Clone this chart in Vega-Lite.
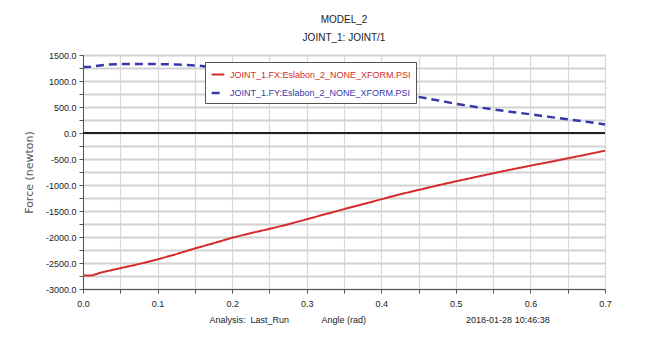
{
  "$schema": "https://vega.github.io/schema/vega-lite/v6.json",
  "width": 522,
  "height": 234,
  "autosize": {"type": "none"},
  "padding": {"left": 83, "top": 55, "right": 58, "bottom": 48},
  "background": "white",
  "title": {
    "text": "MODEL_2",
    "subtitle": "JOINT_1: JOINT/1",
    "anchor": "middle",
    "frame": "group",
    "font": "Liberation Sans, sans-serif",
    "subtitleFont": "Liberation Sans, sans-serif",
    "fontSize": 10,
    "subtitleFontSize": 10,
    "fontWeight": "normal",
    "color": "#222",
    "subtitleColor": "#222",
    "offset": 8,
    "subtitlePadding": 8
  },
  "data": {
    "values": [
      {"series": "JOINT_1.FX:Eslabon_2_NONE_XFORM.PSI", "angle": 0.0, "force": -2740},
      {"series": "JOINT_1.FX:Eslabon_2_NONE_XFORM.PSI", "angle": 0.012, "force": -2740},
      {"series": "JOINT_1.FX:Eslabon_2_NONE_XFORM.PSI", "angle": 0.025, "force": -2680},
      {"series": "JOINT_1.FX:Eslabon_2_NONE_XFORM.PSI", "angle": 0.05, "force": -2600},
      {"series": "JOINT_1.FX:Eslabon_2_NONE_XFORM.PSI", "angle": 0.075, "force": -2520},
      {"series": "JOINT_1.FX:Eslabon_2_NONE_XFORM.PSI", "angle": 0.1, "force": -2430},
      {"series": "JOINT_1.FX:Eslabon_2_NONE_XFORM.PSI", "angle": 0.125, "force": -2330},
      {"series": "JOINT_1.FX:Eslabon_2_NONE_XFORM.PSI", "angle": 0.15, "force": -2220},
      {"series": "JOINT_1.FX:Eslabon_2_NONE_XFORM.PSI", "angle": 0.175, "force": -2120},
      {"series": "JOINT_1.FX:Eslabon_2_NONE_XFORM.PSI", "angle": 0.2, "force": -2015},
      {"series": "JOINT_1.FX:Eslabon_2_NONE_XFORM.PSI", "angle": 0.225, "force": -1925},
      {"series": "JOINT_1.FX:Eslabon_2_NONE_XFORM.PSI", "angle": 0.25, "force": -1845},
      {"series": "JOINT_1.FX:Eslabon_2_NONE_XFORM.PSI", "angle": 0.275, "force": -1755},
      {"series": "JOINT_1.FX:Eslabon_2_NONE_XFORM.PSI", "angle": 0.3, "force": -1660},
      {"series": "JOINT_1.FX:Eslabon_2_NONE_XFORM.PSI", "angle": 0.325, "force": -1560},
      {"series": "JOINT_1.FX:Eslabon_2_NONE_XFORM.PSI", "angle": 0.35, "force": -1465},
      {"series": "JOINT_1.FX:Eslabon_2_NONE_XFORM.PSI", "angle": 0.375, "force": -1370},
      {"series": "JOINT_1.FX:Eslabon_2_NONE_XFORM.PSI", "angle": 0.4, "force": -1275},
      {"series": "JOINT_1.FX:Eslabon_2_NONE_XFORM.PSI", "angle": 0.425, "force": -1180},
      {"series": "JOINT_1.FX:Eslabon_2_NONE_XFORM.PSI", "angle": 0.45, "force": -1095},
      {"series": "JOINT_1.FX:Eslabon_2_NONE_XFORM.PSI", "angle": 0.475, "force": -1010},
      {"series": "JOINT_1.FX:Eslabon_2_NONE_XFORM.PSI", "angle": 0.5, "force": -930},
      {"series": "JOINT_1.FX:Eslabon_2_NONE_XFORM.PSI", "angle": 0.525, "force": -852},
      {"series": "JOINT_1.FX:Eslabon_2_NONE_XFORM.PSI", "angle": 0.55, "force": -775},
      {"series": "JOINT_1.FX:Eslabon_2_NONE_XFORM.PSI", "angle": 0.575, "force": -700},
      {"series": "JOINT_1.FX:Eslabon_2_NONE_XFORM.PSI", "angle": 0.6, "force": -628},
      {"series": "JOINT_1.FX:Eslabon_2_NONE_XFORM.PSI", "angle": 0.625, "force": -560},
      {"series": "JOINT_1.FX:Eslabon_2_NONE_XFORM.PSI", "angle": 0.65, "force": -487},
      {"series": "JOINT_1.FX:Eslabon_2_NONE_XFORM.PSI", "angle": 0.675, "force": -415},
      {"series": "JOINT_1.FX:Eslabon_2_NONE_XFORM.PSI", "angle": 0.7, "force": -340},
      {"series": "JOINT_1.FY:Eslabon_2_NONE_XFORM.PSI", "angle": 0.0, "force": 1270},
      {"series": "JOINT_1.FY:Eslabon_2_NONE_XFORM.PSI", "angle": 0.01, "force": 1275},
      {"series": "JOINT_1.FY:Eslabon_2_NONE_XFORM.PSI", "angle": 0.03, "force": 1312},
      {"series": "JOINT_1.FY:Eslabon_2_NONE_XFORM.PSI", "angle": 0.05, "force": 1325},
      {"series": "JOINT_1.FY:Eslabon_2_NONE_XFORM.PSI", "angle": 0.075, "force": 1328},
      {"series": "JOINT_1.FY:Eslabon_2_NONE_XFORM.PSI", "angle": 0.1, "force": 1325},
      {"series": "JOINT_1.FY:Eslabon_2_NONE_XFORM.PSI", "angle": 0.125, "force": 1318},
      {"series": "JOINT_1.FY:Eslabon_2_NONE_XFORM.PSI", "angle": 0.15, "force": 1300},
      {"series": "JOINT_1.FY:Eslabon_2_NONE_XFORM.PSI", "angle": 0.165, "force": 1280},
      {"series": "JOINT_1.FY:Eslabon_2_NONE_XFORM.PSI", "angle": 0.2, "force": 1215},
      {"series": "JOINT_1.FY:Eslabon_2_NONE_XFORM.PSI", "angle": 0.25, "force": 1125},
      {"series": "JOINT_1.FY:Eslabon_2_NONE_XFORM.PSI", "angle": 0.3, "force": 1030},
      {"series": "JOINT_1.FY:Eslabon_2_NONE_XFORM.PSI", "angle": 0.35, "force": 930},
      {"series": "JOINT_1.FY:Eslabon_2_NONE_XFORM.PSI", "angle": 0.4, "force": 820},
      {"series": "JOINT_1.FY:Eslabon_2_NONE_XFORM.PSI", "angle": 0.45, "force": 695},
      {"series": "JOINT_1.FY:Eslabon_2_NONE_XFORM.PSI", "angle": 0.475, "force": 630},
      {"series": "JOINT_1.FY:Eslabon_2_NONE_XFORM.PSI", "angle": 0.5, "force": 560},
      {"series": "JOINT_1.FY:Eslabon_2_NONE_XFORM.PSI", "angle": 0.525, "force": 505},
      {"series": "JOINT_1.FY:Eslabon_2_NONE_XFORM.PSI", "angle": 0.55, "force": 455},
      {"series": "JOINT_1.FY:Eslabon_2_NONE_XFORM.PSI", "angle": 0.575, "force": 405},
      {"series": "JOINT_1.FY:Eslabon_2_NONE_XFORM.PSI", "angle": 0.6, "force": 360},
      {"series": "JOINT_1.FY:Eslabon_2_NONE_XFORM.PSI", "angle": 0.625, "force": 310},
      {"series": "JOINT_1.FY:Eslabon_2_NONE_XFORM.PSI", "angle": 0.65, "force": 265},
      {"series": "JOINT_1.FY:Eslabon_2_NONE_XFORM.PSI", "angle": 0.675, "force": 215},
      {"series": "JOINT_1.FY:Eslabon_2_NONE_XFORM.PSI", "angle": 0.7, "force": 165}
    ]
  },
  "layer": [
    {
      "mark": {"type": "line", "interpolate": "linear"},
      "encoding": {
        "x": {
          "field": "angle",
          "type": "quantitative",
          "scale": {"domain": [0, 0.7], "nice": false, "zero": false},
          "axis": {
            "values": [0, 0.05, 0.1, 0.15, 0.2, 0.25, 0.3, 0.35, 0.4, 0.45, 0.5, 0.55, 0.6, 0.65, 0.7],
            "labelExpr": "round(datum.value * 100) % 10 === 0 ? format(datum.value, '.1f') : ''",
            "labelOverlap": false,
            "grid": true,
            "gridColor": "#d8d8d8",
            "gridWidth": 1.2,
            "title": "Analysis:\u00a0\u00a0Last_Run\u00a0\u00a0\u00a0\u00a0\u00a0\u00a0\u00a0\u00a0\u00a0\u00a0\u00a0\u00a0\u00a0Angle (rad)\u00a0\u00a0\u00a0\u00a0\u00a0\u00a0\u00a0\u00a0\u00a0\u00a0\u00a0\u00a0\u00a0\u00a0\u00a0\u00a0\u00a0\u00a0\u00a0\u00a0\u00a0\u00a0\u00a0\u00a0\u00a0\u00a0\u00a0\u00a0\u00a0\u00a0\u00a0\u00a0\u00a0\u00a0\u00a0\u00a0\u00a0\u00a0\u00a0\u00a02018-01-28 10:46:38",
            "titleAnchor": "start",
            "titleAlign": "left",
            "titleX": 126,
            "titleFontSize": 9,
            "titlePadding": 7
          }
        },
        "y": {
          "field": "force",
          "type": "quantitative",
          "scale": {"domain": [-3000, 1500], "nice": false},
          "axis": {
            "values": [-3000, -2750, -2500, -2250, -2000, -1750, -1500, -1250, -1000, -750, -500, -250, 0, 250, 500, 750, 1000, 1250, 1500],
            "labelExpr": "datum.value % 500 === 0 ? replace(format(datum.value, '.1f'), '\u2212', '-') : ''",
            "labelOverlap": false,
            "grid": true,
            "gridColor": "#d2d2d2",
            "gridWidth": 2,
            "title": "Force (newton)",
            "titleFont": "DejaVu Sans, sans-serif",
            "titleFontSize": 11,
            "titleFontWeight": "normal",
            "titleColor": "#555",
            "titlePadding": 11
          }
        },
        "color": {
          "field": "series",
          "type": "nominal",
          "scale": {
            "domain": ["JOINT_1.FX:Eslabon_2_NONE_XFORM.PSI", "JOINT_1.FY:Eslabon_2_NONE_XFORM.PSI"],
            "range": ["#d42b2b", "#3838aa"]
          },
          "legend": {
            "orient": "none",
            "legendX": 122,
            "legendY": 7,
            "title": null,
            "fillColor": "white",
            "strokeColor": "#555",
            "padding": 5,
            "rowPadding": 5,
            "symbolType": "stroke",
            "symbolSize": 160,
            "symbolStrokeWidth": 2.5,
            "labelFont": "Liberation Sans, sans-serif",
            "labelFontSize": 9,
            "labelLimit": 300,
            "labelOffset": 4,
            "encode": {
              "labels": {
                "update": {
                  "fill": {"signal": "datum.value === 'JOINT_1.FX:Eslabon_2_NONE_XFORM.PSI' ? '#d42b2b' : '#3838aa'"}
                }
              }
            }
          }
        },
        "strokeWidth": {
          "field": "series",
          "type": "nominal",
          "scale": {
            "domain": ["JOINT_1.FX:Eslabon_2_NONE_XFORM.PSI", "JOINT_1.FY:Eslabon_2_NONE_XFORM.PSI"],
            "range": [2, 2.5]
          },
          "legend": null
        },
        "strokeDash": {
          "field": "series",
          "type": "nominal",
          "scale": {
            "domain": ["JOINT_1.FX:Eslabon_2_NONE_XFORM.PSI", "JOINT_1.FY:Eslabon_2_NONE_XFORM.PSI"],
            "range": [[1, 0], [8, 5]]
          },
          "legend": null
        }
      }
    },
    {
      "mark": {"type": "rule", "color": "#222", "strokeWidth": 1.5},
      "encoding": {
        "y": {
          "datum": 0,
          "type": "quantitative",
          "axis": {
            "values": [-3000, -2750, -2500, -2250, -2000, -1750, -1500, -1250, -1000, -750, -500, -250, 0, 250, 500, 750, 1000, 1250, 1500],
            "labelExpr": "datum.value % 500 === 0 ? replace(format(datum.value, '.1f'), '\u2212', '-') : ''",
            "labelOverlap": false,
            "grid": true,
            "gridColor": "#d2d2d2",
            "gridWidth": 2,
            "title": "Force (newton)",
            "titleFont": "DejaVu Sans, sans-serif",
            "titleFontSize": 11,
            "titleFontWeight": "normal",
            "titleColor": "#555",
            "titlePadding": 11
          }
        }
      }
    }
  ],
  "config": {
    "view": {"stroke": "#555", "strokeWidth": 1},
    "font": "Liberation Sans, sans-serif",
    "axis": {
      "labelFont": "Liberation Sans, sans-serif",
      "labelFontSize": 9,
      "labelColor": "#222",
      "titleFont": "Liberation Sans, sans-serif",
      "titleFontSize": 9.5,
      "titleFontWeight": "normal",
      "titleColor": "#222",
      "gridOpacity": 1,
      "domainColor": "#555",
      "tickColor": "#555",
      "tickSize": 4,
      "labelPadding": 3
    },
    "axisX": {"labelFlush": false, "labelPadding": 6}
  }
}
